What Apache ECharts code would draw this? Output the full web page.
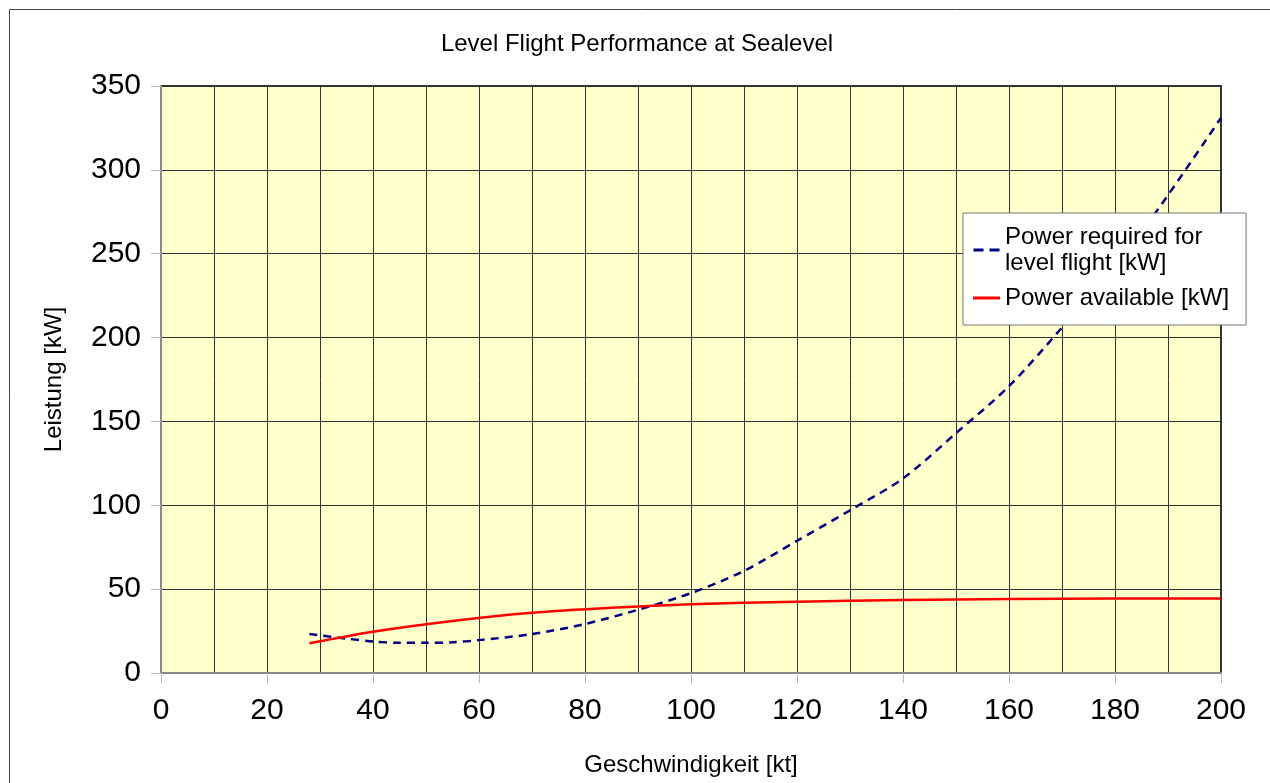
<!DOCTYPE html>
<html>
<head>
<meta charset="utf-8">
<script src="https://cdn.jsdelivr.net/npm/echarts@6/dist/echarts.min.js"></script>
<style>
html,body{margin:0;padding:0;background:#fff;}
#chart{width:1270px;height:783px;}
</style>
</head>
<body>
<div id="chart"></div>
<script>
const titleText = 'Level Flight Performance at Sealevel';
const xAxisName = 'Geschwindigkeit [kt]';
const yAxisName = 'Leistung [kW]';
const seriesNames = ['Power required for\nlevel flight [kW]', 'Power available [kW]'];

const reqSpeed = [28, 35, 40, 45, 50, 55, 60, 70, 80, 90, 100, 110, 120, 130, 140, 150, 160, 170, 180, 188, 200];
const reqPower = [23.2, 20.5, 18.8, 18.0, 18.0, 18.3, 19.6, 23.2, 29.2, 37.7, 47.6, 60.9, 78.8, 97, 116, 143, 171, 206, 243, 276, 331];

const availSpeed = [28, 40, 55, 70, 85, 100, 120, 140, 160, 180, 200];
const availPower = [17.7, 24.6, 31.0, 35.9, 38.9, 41.0, 42.5, 43.5, 44.1, 44.4, 44.4];

const reqData = reqSpeed.map((v, i) => [v, reqPower[i]]);
const availData = availSpeed.map((v, i) => [v, availPower[i]]);

const chart = echarts.init(document.getElementById('chart'));
const font = 'Liberation Sans, Arial, sans-serif';
chart.setOption({
  animation: false,
  backgroundColor: '#ffffff',
  title: {
    text: titleText,
    left: 632, top: 27, textAlign: 'center',
    textStyle: {fontFamily: font, fontSize: 24, fontWeight: 'normal', color: '#000'}
  },
  graphic: [{
    type: 'rect', z: -10, silent: true,
    shape: {x: 9.5, y: 9.5, width: 1400, height: 900},
    style: {fill: 'none', stroke: '#444', lineWidth: 1}
  }],
  grid: {
    left: 161, right: 49, top: 86, bottom: 110,
    outerBoundsMode: 'none', containLabel: false,
    show: true, backgroundColor: '#ffffcc', borderColor: '#333', borderWidth: 2
  },
  legend: {
    orient: 'vertical',
    left: 963, top: 213,
    padding: [11, 17, 14, 10],
    backgroundColor: '#fff',
    borderColor: '#777', borderWidth: 1,
    itemWidth: 27, itemHeight: 3, itemGap: 9,
    textStyle: {fontFamily: font, fontSize: 24, color: '#000', lineHeight: 26},
    itemStyle: {borderWidth: 0},
    lineStyle: {width: 0},
    data: [
      {name: seriesNames[0], icon: 'path://M0,0h10v3h-10zM16,0h10v3h-10z'},
      {name: seriesNames[1], icon: 'path://M0,0h27v3h-27z'}
    ]
  },
  xAxis: {
    type: 'value', min: 0, max: 200, interval: 20,
    name: xAxisName, nameLocation: 'middle', nameGap: 80,
    nameTextStyle: {fontFamily: font, fontSize: 24, color: '#000'},
    axisLine: {show: true, onZero: false, lineStyle: {color: '#888', width: 2}},
    axisTick: {show: true, length: 10, lineStyle: {color: '#bbb', width: 1}},
    axisLabel: {fontFamily: font, fontSize: 30, color: '#000', margin: 23},
    splitLine: {show: true, lineStyle: {color: '#333', width: 1}},
    minorTick: {show: false, splitNumber: 2},
    minorSplitLine: {show: true, lineStyle: {color: '#333', width: 1}}
  },
  yAxis: {
    type: 'value', min: 0, max: 350, interval: 50,
    name: yAxisName, nameLocation: 'middle', nameGap: 95, nameRotate: 90,
    nameTextStyle: {fontFamily: font, fontSize: 24, color: '#000'},
    axisLine: {show: true, lineStyle: {color: '#888', width: 2}},
    axisTick: {show: true, length: 10, lineStyle: {color: '#bbb', width: 1}},
    axisLabel: {fontFamily: font, fontSize: 30, color: '#000', margin: 20},
    splitLine: {show: true, lineStyle: {color: '#333', width: 1}}
  },
  series: [{
    name: seriesNames[0], type: 'line', smooth: 0.3, symbol: 'none',
    data: reqData,
    lineStyle: {color: '#000080', width: 2.5, type: [8, 6]},
    itemStyle: {color: '#000080'}
  }, {
    name: seriesNames[1], type: 'line', smooth: 0.3, symbol: 'none',
    data: availData,
    lineStyle: {color: '#ff0000', width: 2.5},
    itemStyle: {color: '#ff0000'}
  }]
});
</script>
</body>
</html>
